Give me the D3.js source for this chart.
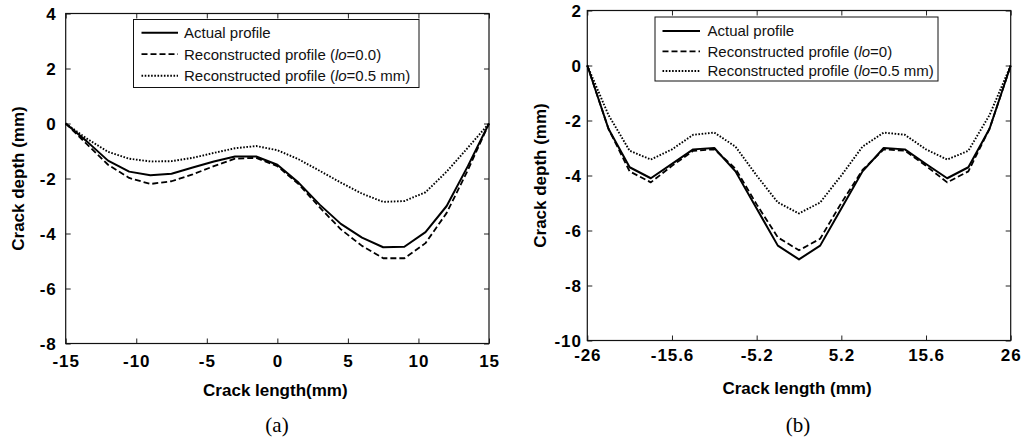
<!DOCTYPE html>
<html><head><meta charset="utf-8">
<script src="https://cdn.jsdelivr.net/npm/d3@7/dist/d3.min.js"></script>
<style>
html,body{margin:0;padding:0;background:#fff;}
svg{display:block;}
.tick text{font-family:"Liberation Sans",Arial,sans-serif;font-weight:bold;font-size:17px;letter-spacing:0.9px;fill:#000;}
</style></head>
<body>
<svg id="c" width="1023" height="439"></svg>
<script>
// ---- Panel (a) data ----
const xA = [-15,-13.5,-12,-10.5,-9,-7.5,-6,-4.5,-3,-1.5,0,1.5,3,4.5,6,7.5,9,10.5,12,13.5,15];
const actualA = [0,-0.65,-1.35,-1.75,-1.88,-1.83,-1.6,-1.38,-1.2,-1.2,-1.5,-2.15,-2.95,-3.65,-4.15,-4.5,-4.48,-3.95,-3.0,-1.55,0];
const recon0A = [0,-0.75,-1.5,-1.98,-2.2,-2.1,-1.85,-1.55,-1.28,-1.25,-1.55,-2.2,-3.05,-3.85,-4.45,-4.9,-4.9,-4.35,-3.25,-1.7,0];
const recon05A = [0,-0.55,-1.03,-1.28,-1.38,-1.37,-1.25,-1.07,-0.9,-0.82,-0.97,-1.3,-1.72,-2.15,-2.55,-2.85,-2.82,-2.5,-1.75,-0.88,0];
const xTicksA = [-15,-10,-5,0,5,10,15];
const yTicksA = [4,2,0,-2,-4,-6,-8];
const legendA = ["Actual profile","Reconstructed profile (|lo|=0.0)","Reconstructed profile (|lo|=0.5 mm)"];

// ---- Panel (b) data ----
const xB = [-26,-23.4,-20.8,-18.2,-15.6,-13,-10.4,-7.8,-5.2,-2.6,0,2.6,5.2,7.8,10.4,13,15.6,18.2,20.8,23.4,26];
const actualB = [0,-2.3,-3.7,-4.1,-3.58,-3.05,-3.0,-3.85,-5.2,-6.55,-7.05,-6.55,-5.2,-3.85,-3.0,-3.05,-3.58,-4.1,-3.7,-2.3,0];
const recon0B = [0,-2.3,-3.85,-4.25,-3.65,-3.1,-3.05,-3.75,-5.05,-6.25,-6.72,-6.3,-5.0,-3.8,-3.05,-3.1,-3.65,-4.25,-3.85,-2.3,0];
const recon05B = [0,-1.8,-3.1,-3.42,-3.05,-2.52,-2.44,-2.95,-4.0,-4.98,-5.38,-4.98,-4.0,-2.95,-2.44,-2.52,-3.05,-3.42,-3.1,-1.8,0];
const xTicksB = [-26,-15.6,-5.2,5.2,15.6,26];
const yTicksB = [2,0,-2,-4,-6,-8,-10];
const legendB = ["Actual profile","Reconstructed profile (|lo|=0)","Reconstructed profile (|lo|=0.5 mm)"];

const svg = d3.select("#c");
const FONT = '"Liberation Sans",Arial,sans-serif';
const styles = [
  {w:2, dash:null},
  {w:1.8, dash:"6,3"},
  {w:1.9, dash:"1.6,1.6"}
];

function panel(cfg){
  const g = svg.append("g");
  const x = d3.scaleLinear().domain(cfg.xDomain).range([cfg.left, cfg.right]);
  const y = d3.scaleLinear().domain(cfg.yDomain).range([cfg.bottom, cfg.top]);

  const ax = g.append("g").attr("transform",`translate(0,${cfg.bottom})`)
    .call(d3.axisBottom(x).tickValues(cfg.xTicks).tickSizeInner(-5).tickSizeOuter(0).tickPadding(cfg.xPad).tickFormat(d=>String(d)));
  const axT = g.append("g").attr("transform",`translate(0,${cfg.top})`)
    .call(d3.axisTop(x).tickValues(cfg.xTicks).tickSizeInner(-5).tickSizeOuter(0).tickFormat(""));
  const ay = g.append("g").attr("transform",`translate(${cfg.left},0)`)
    .call(d3.axisLeft(y).tickValues(cfg.yTicks).tickSizeInner(-5).tickSizeOuter(0).tickPadding(cfg.yPad).tickFormat(d=>String(d)));
  const ayR = g.append("g").attr("transform",`translate(${cfg.right},0)`)
    .call(d3.axisRight(y).tickValues(cfg.yTicks).tickSizeInner(-5).tickSizeOuter(0).tickFormat(""));
  [ax,axT,ay,ayR].forEach(a=>{
    a.select(".domain").remove();
    a.selectAll(".tick line").attr("stroke","#222").attr("stroke-width",1);
  });
  ax.selectAll(".tick text").attr("dy","0.95em");
  ay.selectAll(".tick text").attr("dy","0.38em");
  g.append("rect").attr("x",cfg.left).attr("y",cfg.top)
    .attr("width",cfg.right-cfg.left).attr("height",cfg.bottom-cfg.top)
    .attr("fill","none").attr("stroke","#111").attr("stroke-width",1.2);

  const line = d3.line().x(d=>x(d[0])).y(d=>y(d[1]));
  cfg.series.forEach((s,i)=>{
    const pts = cfg.xs.map((xv,j)=>[xv,s[j]]);
    g.append("path").attr("d",line(pts)).attr("fill","none")
      .attr("stroke","#000").attr("stroke-width",styles[i].w)
      .attr("stroke-dasharray",styles[i].dash)
      .attr("stroke-linejoin","round");
  });

  const L = cfg.legend;
  g.append("rect").attr("x",L.x0).attr("y",L.y0).attr("width",L.x1-L.x0).attr("height",L.y1-L.y0)
    .attr("fill","#fff").attr("stroke","#111").attr("stroke-width",1);
  cfg.labels.forEach((lab,i)=>{
    const yy = L.rows[i];
    g.append("line").attr("x1",L.lx0).attr("x2",L.lx1).attr("y1",yy).attr("y2",yy)
      .attr("stroke","#000").attr("stroke-width",styles[i].w).attr("stroke-dasharray",styles[i].dash);
    const t = g.append("text").attr("x",L.tx).attr("y",yy).attr("dy","0.36em")
      .attr("font-family",FONT).attr("font-size",15).attr("fill","#111");
    lab.split("|").forEach((part,k)=>{
      const sp = t.append("tspan").text(part);
      if(k===1) sp.attr("font-style","italic");
    });
  });

  g.append("text").attr("x",(cfg.left+cfg.right)/2 + cfg.xtOff).attr("y",cfg.xtY).attr("text-anchor","middle")
    .attr("font-family",FONT).attr("font-weight","bold").attr("font-size",17).text(cfg.xTitle);
  g.append("text").attr("transform",`translate(${cfg.ytX},${(cfg.top+cfg.bottom)/2}) rotate(-90)`)
    .attr("text-anchor","middle").attr("font-family",FONT).attr("font-weight","bold").attr("font-size",17)
    .text("Crack depth (mm)");
  g.append("text").attr("x",cfg.capX).attr("y",432).attr("text-anchor","middle")
    .attr("font-family",'"Liberation Serif","Times New Roman",serif').attr("font-size",21).text(cfg.cap);
}

panel({
  xDomain:[-15,15], yDomain:[-8,4], left:65.7, right:489, top:13.5, bottom:343.5,
  xTicks:xTicksA, yTicks:yTicksA, xPad:7, yPad:9,
  xs:xA, series:[actualA,recon0A,recon05A], labels:legendA,
  legend:{x0:133.5,x1:419,y0:19.5,y1:87.5,lx0:141.5,lx1:178,tx:184,rows:[32.7,54.2,75.8]},
  xTitle:"Crack length(mm)", xtOff:-2, xtY:396, ytX:24, cap:"(a)", capX:277
});
panel({
  xDomain:[-26,26], yDomain:[-10,2], left:587.3, right:1010.7, top:10.5, bottom:340.5,
  xTicks:xTicksB, yTicks:yTicksB, xPad:4.5, yPad:5.5,
  xs:xB, series:[actualB,recon0B,recon05B], labels:legendB,
  legend:{x0:655,x1:938,y0:17,y1:81,lx0:662.5,lx1:700,tx:707.5,rows:[31,51.3,71]},
  xTitle:"Crack length (mm)", xtOff:-2, xtY:394, ytX:546, cap:"(b)", capX:798
});
</script>
</body></html>
